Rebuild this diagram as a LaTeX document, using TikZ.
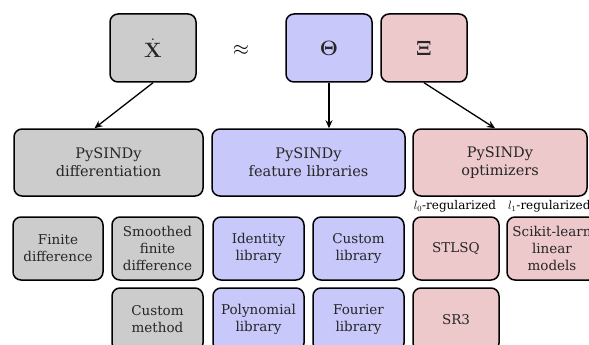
\documentclass[tikz,border=0pt]{standalone}
\usepackage[no-math]{fontspec}
\setmainfont{DejaVu Serif}
\usetikzlibrary{arrows.meta}
\definecolor{gfill}{RGB}{204,204,204}
\definecolor{bfill}{RGB}{200,200,250}
\definecolor{pfill}{RGB}{238,201,203}
\tikzset{
  boxstyle/.style={draw=black, line width=1.5pt, rounded corners=8pt, align=center,
    inner sep=0pt, font=\fontsize{13.5}{17}\selectfont, text=black!85},
  topbox/.style={boxstyle, minimum width=86pt, minimum height=68pt, font=\fontsize{20}{24}\selectfont},
  midbox/.style={boxstyle, minimum height=67pt, font=\fontsize{14.5}{18}\selectfont},
  smallbox/.style={boxstyle, minimum height=63pt},
  conn/.style={line width=1.3pt, -{Stealth[length=8pt,width=7pt]}},
  tag/.style={font=\fontsize{12}{14}\selectfont, inner sep=0pt}
}
\begin{document}
\begin{tikzpicture}[x=1pt,y=-1pt]
\useasboundingbox (0,0) rectangle (589,345);
\clip (0,0) rectangle (589,345);
% top row
\node[topbox, fill=gfill] (X) at (153,48) {$\dot{\mathbf{X}}$};
\node[font=\fontsize{20}{24}\selectfont] (approx) at (241,50) {$\approx$};
\node[topbox, fill=bfill] (Th) at (329,48) {$\mathbf{\Theta}$};
\node[topbox, fill=pfill] (Xi) at (424,48) {$\mathbf{\Xi}$};
% second row
\node[midbox, fill=gfill, minimum width=189pt] (diff) at (108.5,162.5) {PySINDy\\differentiation};
\node[midbox, fill=bfill, minimum width=193pt] (feat) at (308.5,162.5) {PySINDy\\feature libraries};
\node[midbox, fill=pfill, minimum width=174pt] (opt) at (500,162.5) {PySINDy\\optimizers};
% connectors
\draw[conn] (X.south) -- ([xshift=-14pt]diff.north);
\draw[conn] (Th.south) -- (Th.south |- feat.north);
\draw[conn] (Xi.south) -- ([xshift=-5pt]opt.north);
% labels
\node[tag] (l0) at (455,206) {$l_0$-regularized};
\node[tag, anchor=west] (l1) at (508,206) {$l_1$-regularized};
% third row
\node[smallbox, fill=gfill, minimum width=90pt] (fd) at (58,248.5) {Finite\\difference};
\node[smallbox, fill=gfill, minimum width=91pt] (sfd) at (157.5,248.5) {Smoothed\\finite\\difference};
\node[smallbox, fill=bfill, minimum width=91pt] (idl) at (258.5,248.5) {Identity\\library};
\node[smallbox, fill=bfill, minimum width=91pt] (cl) at (358.5,248.5) {Custom\\library};
\node[smallbox, fill=pfill, minimum width=86pt] (stlsq) at (456,248.5) {STLSQ};
\node[smallbox, fill=pfill, minimum width=90pt] (sk) at (552,248.5) {Scikit-learn\\linear\\models};
% fourth row
\node[smallbox, fill=gfill, minimum width=91pt] (cm) at (157.5,319.5) {Custom\\method};
\node[smallbox, fill=bfill, minimum width=91pt] (poly) at (258.5,319.5) {Polynomial\\library};
\node[smallbox, fill=bfill, minimum width=91pt] (four) at (358.5,319.5) {Fourier\\library};
\node[smallbox, fill=pfill, minimum width=86pt] (sr3) at (456,319.5) {SR3};
\end{tikzpicture}
\end{document}
